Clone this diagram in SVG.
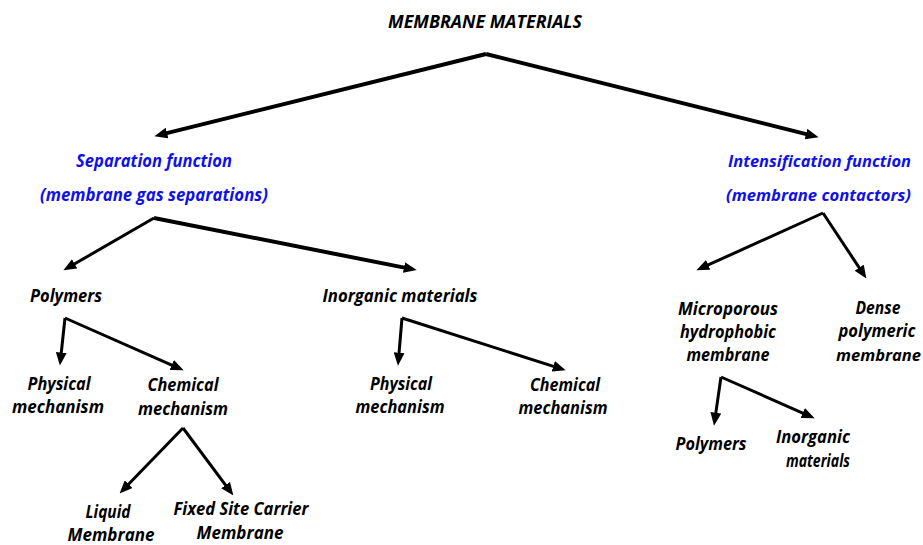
<svg xmlns="http://www.w3.org/2000/svg" width="923" height="545" viewBox="0 0 923 545">
<style>
text{font-family:"Open Sans","Liberation Sans",sans-serif;font-weight:bold;font-style:italic;font-size:18px;fill:#000;text-anchor:middle}
text.blue{fill:#1010e8}
text.s{text-anchor:start;font-size:16px}
.c line{stroke:#000;stroke-width:3;marker-end:url(#ah)}
.c line.thick{stroke-width:4}
</style>
<defs>
<marker id="ah" markerUnits="userSpaceOnUse" markerWidth="13" markerHeight="11" refX="4" refY="5" orient="auto" viewBox="0 0 12 10">
<path d="M0,0 L12,5 L0,10 z" fill="#000"/>
</marker>
</defs>
<rect width="923" height="545" fill="#fff"/>
<g class="c" id="connectors">
<line class="thick" x1="486" y1="54" x2="162.8" y2="134.1"/>
<line class="thick" x1="486" y1="54" x2="810.2" y2="135.1"/>
<line x1="154" y1="218" x2="70.9" y2="266"/>
<line class="thick" x1="154" y1="218" x2="408.2" y2="268.4"/>
<line x1="823" y1="213" x2="704.3" y2="266.7"/>
<line x1="823" y1="213" x2="861.6" y2="271.3"/>
<line x1="65" y1="318" x2="60.8" y2="357"/>
<line x1="65" y1="318" x2="175.7" y2="366.8"/>
<line x1="183" y1="428" x2="125.6" y2="487.3"/>
<line x1="183" y1="428" x2="228.2" y2="488.6"/>
<line x1="402" y1="318" x2="398.7" y2="357"/>
<line x1="402" y1="318" x2="557.4" y2="367.6"/>
<line x1="721" y1="377" x2="715.2" y2="417.1"/>
<line x1="721" y1="377" x2="806.7" y2="414.8"/>
</g>
<g id="root"><text x="485" y="28" textLength="194" lengthAdjust="spacingAndGlyphs">MEMBRANE MATERIALS</text></g>
<g id="separation">
<text class="blue" x="154" y="167" textLength="156" lengthAdjust="spacingAndGlyphs">Separation function</text>
<text class="blue" x="154" y="201" textLength="228" lengthAdjust="spacingAndGlyphs">(membrane gas separations)</text>
</g>
<g id="intensification">
<text class="blue s" x="728" y="167" textLength="183" lengthAdjust="spacingAndGlyphs">Intensification function</text>
<text class="blue s" x="726" y="201" textLength="185" lengthAdjust="spacingAndGlyphs">(membrane contactors)</text>
</g>
<g id="polymers"><text x="66" y="302" textLength="72" lengthAdjust="spacingAndGlyphs">Polymers</text></g>
<g id="inorganic"><text x="400" y="302" textLength="155" lengthAdjust="spacingAndGlyphs">Inorganic materials</text></g>
<g id="poly-physical">
<text x="59" y="390" textLength="63" lengthAdjust="spacingAndGlyphs">Physical</text>
<text x="58" y="413" textLength="92" lengthAdjust="spacingAndGlyphs">mechanism</text>
</g>
<g id="poly-chemical">
<text x="183" y="391" textLength="71" lengthAdjust="spacingAndGlyphs">Chemical</text>
<text x="183" y="415" textLength="90" lengthAdjust="spacingAndGlyphs">mechanism</text>
</g>
<g id="liquid">
<text x="108" y="518" textLength="45" lengthAdjust="spacingAndGlyphs">Liquid</text>
<text x="111" y="541" textLength="87" lengthAdjust="spacingAndGlyphs">Membrane</text>
</g>
<g id="fixed-site">
<text x="241" y="515" textLength="135" lengthAdjust="spacingAndGlyphs">Fixed Site Carrier</text>
<text x="240" y="539" textLength="87" lengthAdjust="spacingAndGlyphs">Membrane</text>
</g>
<g id="inorg-physical">
<text x="401" y="390" textLength="62" lengthAdjust="spacingAndGlyphs">Physical</text>
<text x="400" y="413" textLength="89" lengthAdjust="spacingAndGlyphs">mechanism</text>
</g>
<g id="inorg-chemical">
<text x="565" y="391" textLength="70" lengthAdjust="spacingAndGlyphs">Chemical</text>
<text x="563" y="414" textLength="89" lengthAdjust="spacingAndGlyphs">mechanism</text>
</g>
<g id="microporous">
<text x="728" y="315" textLength="100" lengthAdjust="spacingAndGlyphs">Microporous</text>
<text x="728" y="338" textLength="96" lengthAdjust="spacingAndGlyphs">hydrophobic</text>
<text x="728" y="361" textLength="83" lengthAdjust="spacingAndGlyphs">membrane</text>
</g>
<g id="dense">
<text x="878" y="314" textLength="45" lengthAdjust="spacingAndGlyphs">Dense</text>
<text x="877" y="337" textLength="77" lengthAdjust="spacingAndGlyphs">polymeric</text>
<text class="s" x="836" y="361" textLength="85" lengthAdjust="spacingAndGlyphs">membrane</text>
</g>
<g id="micro-polymers"><text x="711" y="450" textLength="71" lengthAdjust="spacingAndGlyphs">Polymers</text></g>
<g id="micro-inorganic">
<text x="813" y="443" textLength="74" lengthAdjust="spacingAndGlyphs">Inorganic</text>
<text x="818" y="467" textLength="64" lengthAdjust="spacingAndGlyphs">materials</text>
</g>
</svg>
